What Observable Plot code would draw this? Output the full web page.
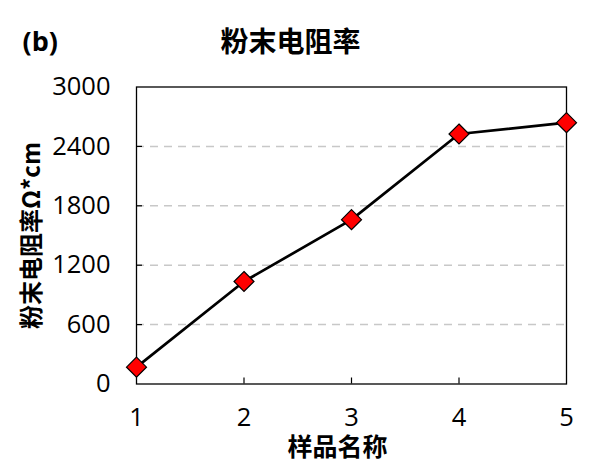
<!DOCTYPE html>
<html>
<head>
<meta charset="utf-8">
<script src="https://cdn.jsdelivr.net/npm/d3@7"></script>
<script src="https://cdn.jsdelivr.net/npm/@observablehq/plot@0.6"></script>
<style>
  html, body { margin: 0; padding: 0; background: #fff; }
</style>
</head>
<body>
<div id="chart"></div>
<script>
// Powder resistivity per sample
const samples = [1, 2, 3, 4, 5];
const resistivity = [170, 1035, 1660, 2525, 2640];
const yTicks = [0, 600, 1200, 1800, 2400, 3000];
const gridTicks = [600, 1200, 1800, 2400];
const innerXTicks = [2, 3, 4];

const panelTag = "(b)";
const title = "粉末电阻率";
const yLabel = "粉末电阻率Ω*cm";
const xLabel = "样品名称";

const data = samples.map((s, i) => ({sample: s, value: resistivity[i]}));

const latin = "'Open Sans', 'Noto Sans CJK SC', sans-serif";
const cjk = "'Noto Sans CJK SC', sans-serif";

const chart = Plot.plot({
  width: 592,
  height: 474,
  marginLeft: 136,
  marginRight: 26,
  marginTop: 86.5,
  marginBottom: 90.5,
  style: {fontFamily: latin, fontSize: "25.5px", color: "black", background: "white"},
  x: {domain: [1, 5]},
  y: {domain: [0, 3000]},
  marks: [
    Plot.gridY(gridTicks, {stroke: "#c8c8c8", strokeOpacity: 1, strokeWidth: 1.5, strokeDasharray: "8,6"}),
    Plot.frame({stroke: "black", strokeWidth: 1.3}),
    // inward tick marks
    Plot.axisX(innerXTicks, {tickSize: 6, dy: -6, text: null, label: null, strokeWidth: 1.2}),
    Plot.axisY(gridTicks, {tickSize: 6, dx: 6, text: null, label: null, strokeWidth: 1.2}),
    // tick labels
    Plot.axisX(samples, {tickSize: 0, tickPadding: 24, label: null, tickFormat: d => String(d)}),
    Plot.axisY(yTicks, {tickSize: 0, tickPadding: 26, label: null, tickFormat: d => String(d)}),
    Plot.line(data, {x: "sample", y: "value", stroke: "black", strokeWidth: 2.7}),
    Plot.dot(data, {x: "sample", y: "value", symbol: "diamond2", r: 9, fill: "#ff0000", stroke: "black", strokeWidth: 1.2}),
    // titles and axis names
    Plot.text([panelTag], {frameAnchor: "top-left", lineAnchor: "middle", dx: -114, dy: -45, textAnchor: "start", fontSize: 27, fontWeight: "bold", fontFamily: latin}),
    Plot.text([title], {frameAnchor: "top", lineAnchor: "middle", dx: -61, dy: -44, fontSize: 28, fontWeight: "bold", fontFamily: cjk}),
    Plot.text([yLabel], {frameAnchor: "left", textAnchor: "middle", lineAnchor: "middle", dx: -104, rotate: -90, fontSize: 24, fontWeight: "bold", fontFamily: cjk}),
    Plot.text([xLabel], {frameAnchor: "bottom", lineAnchor: "middle", dx: -14, dy: 64, fontSize: 25, fontWeight: "bold", fontFamily: cjk})
  ]
});

document.getElementById("chart").appendChild(chart);
</script>
</body>
</html>
